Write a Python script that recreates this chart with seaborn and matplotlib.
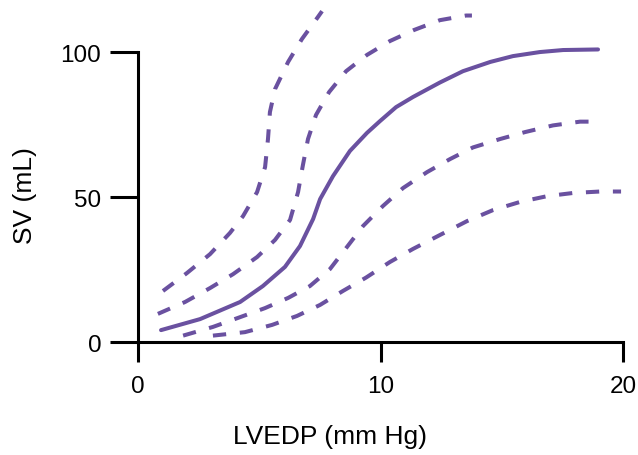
import numpy as np
import pandas as pd
import matplotlib
matplotlib.use('Agg')
import matplotlib.pyplot as plt
import seaborn as sns

# ─────────────────────────────────────────────────────────────
# Data
# ─────────────────────────────────────────────────────────────
# solid curve: normal
lvedp_normal = [0.95, 2.56, 4.21, 5.15, 6.06, 6.68, 7.22, 7.51, 8.04, 8.74,
                9.44, 9.98, 10.64, 11.34, 12.45, 13.40, 14.53, 15.46, 16.57,
                17.53, 18.97]
sv_normal    = [4.1, 7.9, 13.8, 19.3, 25.9, 33.1, 42.4, 49.3, 57.2, 65.9,
                72.1, 76.2, 81.0, 84.5, 89.5, 93.4, 96.6, 98.6, 100.0,
                100.7, 100.9]

# dashed curve 1: steepest, far left
lvedp_d1 = [1.03, 2.02, 2.97, 3.79, 4.33, 4.91, 5.24, 5.36, 5.44, 5.65,
            6.19, 6.76, 7.42, 7.59]
sv_d1    = [17.6, 23.8, 30.3, 37.6, 43.4, 51.7, 60.3, 70.0, 79.3, 87.2,
            96.6, 104.5, 112.1, 114.1]

# dashed curve 2
lvedp_d2 = [0.82, 1.94, 2.97, 3.92, 4.91, 5.65, 6.27, 6.60, 6.80, 7.01,
            7.34, 7.88, 8.58, 9.44, 10.39, 11.38, 12.45, 13.53, 13.77]
sv_d2    = [9.7, 13.8, 18.6, 23.4, 29.3, 35.2, 42.1, 51.7, 61.0, 70.0,
            78.3, 86.2, 93.4, 99.0, 103.8, 107.6, 111.0, 112.6, 112.6]

# dashed curve 3
lvedp_d3 = [1.86, 3.09, 4.12, 5.24, 6.19, 7.09, 7.92, 8.62, 9.28, 10.10,
            10.93, 11.92, 12.87, 13.81, 14.93, 15.96, 17.11, 18.23, 18.89]
sv_d3    = [2.2, 5.2, 8.3, 11.7, 15.2, 19.3, 25.2, 32.8, 40.0, 46.9,
            53.1, 58.6, 63.1, 67.1, 70.0, 72.4, 74.7, 76.0, 76.0]

# dashed curve 4: flattest
lvedp_d4 = [3.09, 4.41, 5.53, 6.56, 7.51, 8.45, 9.40, 10.39, 11.34, 12.45,
            13.57, 14.64, 15.75, 16.87, 17.94, 19.05, 19.92]
sv_d4    = [2.2, 3.4, 5.9, 9.0, 12.8, 17.6, 22.2, 27.6, 32.1, 36.9,
            41.7, 45.5, 48.3, 50.3, 51.4, 51.9, 51.9]

x_ticks = [0, 10, 20]
y_ticks = [0, 50, 100]

PURPLE = '#6a51a0'

# ─────────────────────────────────────────────────────────────
# Plot
# ─────────────────────────────────────────────────────────────
sns.set_style('white')
plt.rcParams['font.family'] = ['Liberation Sans', 'DejaVu Sans']
plt.rcParams['text.color'] = 'black'
plt.rcParams['axes.labelcolor'] = 'black'

fig = plt.figure(figsize=(6.38, 4.56), dpi=100)
ax = fig.add_axes([0.2163, 0.2478, 0.7602, 0.7522])

curves = [
    (lvedp_d1, sv_d1, True),
    (lvedp_d2, sv_d2, True),
    (lvedp_normal, sv_normal, False),
    (lvedp_d3, sv_d3, True),
    (lvedp_d4, sv_d4, True),
]
for xs, ys, dashed in curves:
    df = pd.DataFrame({'LVEDP': xs, 'SV': ys})
    kw = dict(dashes=(3.3, 3.4)) if dashed else {}
    sns.lineplot(data=df, x='LVEDP', y='SV', ax=ax, color=PURPLE,
                 linewidth=2.9, sort=False, clip_on=False, **kw)

ax.set_xlim(0, 20)
ax.set_ylim(0, 118.3)
ax.set_xticks(x_ticks)
ax.set_yticks(y_ticks)
ax.set_xticklabels([str(v) for v in x_ticks])
ax.set_yticklabels([str(v) for v in y_ticks])

for side in ['top', 'right']:
    ax.spines[side].set_visible(False)
ax.spines['left'].set_bounds(0, 100)
ax.spines['bottom'].set_bounds(0, 20)
for side in ['left', 'bottom']:
    ax.spines[side].set_linewidth(2.2)
    ax.spines[side].set_color('black')

ax.tick_params(axis='y', direction='out', length=20, width=2.2,
               pad=6.5, labelsize=17.5, left=True, colors='black')
ax.tick_params(axis='x', direction='out', length=14.4, width=2.2,
               pad=9, labelsize=17.5, bottom=True, colors='black')

ax.set_xlabel('LVEDP (mm Hg)', fontsize=19, color='black')
ax.set_ylabel('SV (mL)', fontsize=19, color='black')
ax.xaxis.label.set_va('center')
ax.yaxis.label.set_va('center')
ax.xaxis.set_label_coords(0.396, -0.274)
ax.yaxis.set_label_coords(-0.233, 0.429)

fig.savefig('out.png', dpi=100)
plt.close(fig)
